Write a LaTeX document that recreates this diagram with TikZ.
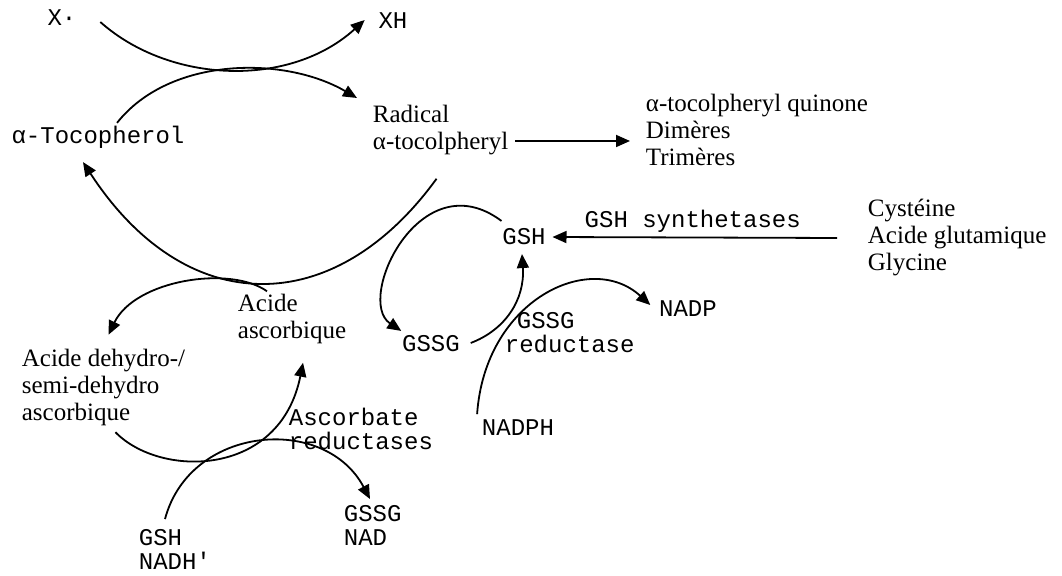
\documentclass[tikz,border=0pt]{standalone}
\usepackage{fontspec}
\setmainfont{Liberation Serif}
\setmonofont{Liberation Mono}
\usetikzlibrary{arrows.meta}

\begin{document}
\begin{tikzpicture}[x=0.5pt, y=-0.5pt, line width=0.9pt,
  mol/.style={inner sep=1pt, align=left, font=\fontsize{12.5}{13.5}\selectfont},
  tt/.style={inner sep=1pt, align=left, font=\ttfamily\fontsize{12}{12}\selectfont},
  arr/.style={-{Triangle[length=7pt, width=6pt]}}]
  \useasboundingbox (0,0) rectangle (1062,576);

  \node[tt] (xdot) at (62,18) {X·};
  \node[tt] (xh) at (393,21) {XH};
  \node[tt] (atoc) at (98,137) {α-Tocopherol};
  \node[mol, anchor=west] (rad) at (370,130) {Radical\\α-tocolpheryl};
  \node[mol, anchor=west] (prod) at (643,130) {α-tocolpheryl quinone\\Dimères\\Trimères};
  \node[mol, anchor=west] (aa) at (865,238) {Cystéine\\Acide glutamique\\Glycine};
  \node[tt] (gsh) at (524,237) {GSH};
  \node[tt] (gssg) at (431,344) {GSSG};
  \node[tt, anchor=west] (gred) at (502,333) {\hspace*{6pt}GSSG\\reductase};
  \node[tt] (nadp) at (688,309) {NADP};
  \node[tt] (nadph) at (518,428) {NADPH};
  \node[mol, anchor=west] (asc) at (235,319) {Acide\\ascorbique};
  \node[mol, anchor=west] (dha) at (19,387) {Acide dehydro-/\\semi-dehydro\\ascorbique};
  \node[tt, anchor=west] (ared) at (286,429) {Ascorbate\\reductases};
  \node[tt, anchor=west] (red1) at (136,549) {GSH\\NADH'};
  \node[tt, anchor=west] (ox1) at (341,525) {GSSG\\NAD};

  \draw[arr] ([shift={(21,4)}]xdot.east) .. controls (170,84) and (290,88) .. ([shift={(-11,-1)}]xh.west);
  \draw[arr] ([shift={(19,0)}]atoc.north) .. controls (170,56) and (285,56) .. ([shift={(-13,-32)}]rad.west);
  \draw[arr] ([shift={(-4,21)}]rad.south) .. controls (334,320) and (186,320) .. ([shift={(-15,11)}]atoc.south);
  \draw[arr] ([shift={(4,11)}]rad.east) -- ([shift={(-13,11)}]prod.west);
  \draw[arr, shorten >=2pt] ([xshift=-14pt]aa.west) -- (gsh.east)
    node[tt, midway, above=1pt] (syn) {GSH synthetases};
  \draw[arr] ([shift={(2,-5)}]gsh.north west) .. controls (420,160) and (355,300) .. ([shift={(2,-2)}]gssg.north west);
  \draw[arr] ([shift={(8,-1)}]gssg.east) .. controls (505,330) and (525,300) .. ([shift={(-2,6)}]gsh.south);
  \draw[arr] ([shift={(-2,-3)}]nadph.north west) .. controls (485,300) and (590,250) .. ([shift={(-6,-4)}]nadp.west);
  \draw[arr] ([shift={(32,0)}]asc.north west) .. controls (230,265) and (135,280) .. ([shift={(5,-11)}]dha.north);
  \draw[arr] ([shift={(12,4)}]dha.south) .. controls (160,478) and (280,478) .. ([shift={(11,16)}]asc.south);
  \draw[arr] ([shift={(29,-7)}]red1.north west) .. controls (190,425) and (325,414) .. ([shift={(29,-3)}]ox1.north west);
\end{tikzpicture}
\end{document}
